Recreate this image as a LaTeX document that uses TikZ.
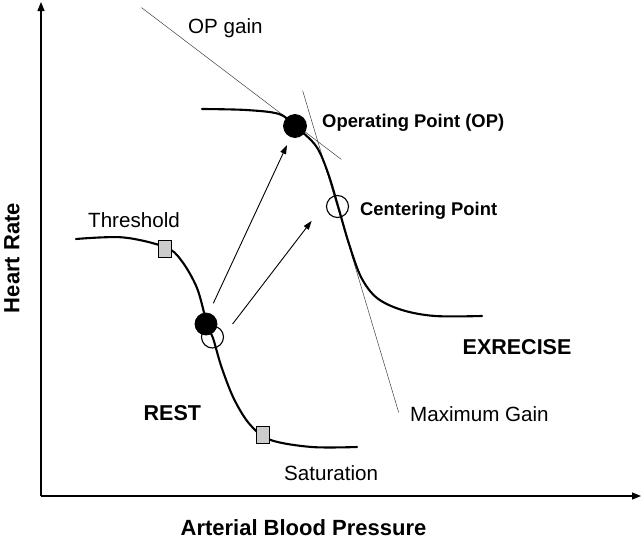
\documentclass[tikz,border=0pt]{standalone}
\usepackage{fontspec}
\setmainfont{Liberation Sans}
\usetikzlibrary{arrows.meta}
\begin{document}
\begin{tikzpicture}[x=1pt,y=-1pt,
  curve/.style={line width=2.1pt, line cap=round},
  axis/.style={line width=1.2pt, -{Triangle[length=9pt,width=7pt]}},
  tangent/.style={line width=0.5pt, black!75},
  shiftarrow/.style={line width=0.9pt, -{Triangle[length=9pt,width=6pt]}},
  sqmark/.style={draw, line width=1pt, fill=black!20, minimum width=13pt, minimum height=17pt, inner sep=0pt},
  opmark/.style={circle, fill=black, draw, line width=0.8pt, minimum size=22pt, inner sep=0pt},
  cpmark/.style={circle, fill=none, draw, line width=1.1pt, minimum size=22pt, inner sep=0pt},
  lbl/.style={anchor=base west, inner sep=0pt, font=\fontsize{20.6}{24}\selectfont},
  blbl/.style={anchor=base west, inner sep=0pt, font=\fontsize{18.4}{22}\selectfont\bfseries},
  bigl/.style={anchor=base west, inner sep=0pt, font=\fontsize{21.5}{25}\selectfont\bfseries},
  axl/.style={anchor=base, inner sep=0pt, font=\fontsize{22}{26}\selectfont\bfseries}]
\useasboundingbox (0,0) rectangle (643,544);
% axes
\coordinate (origin) at (41,496);
\coordinate (ytop) at (41,2);
\coordinate (xend) at (641,496);
\draw[axis] (origin) -- (ytop);
\draw[axis] (origin) -- (xend);
% tangent lines
\coordinate (opg1) at (141.5,7.6);
\coordinate (opg2) at (341.3,159.4);
\coordinate (mg1) at (302.7,90.8);
\coordinate (mg2) at (398.7,412.5);
\draw[tangent] (opg1) -- (opg2);
\draw[tangent] (mg1) -- (mg2);
% rest curve
\draw[curve] plot[smooth, tension=0.55] coordinates {(76,239) (123,237.4) (165,247) (181,260) (197,288) (207,324) (213,338) (221.5,367) (234,399) (250,424.6) (270.7,440) (311.7,447) (357,447)};
% exercise curve
\draw[curve] plot[smooth, tension=0.55] coordinates {(202,109) (246,110) (279,114) (295,126) (316,146) (328,173) (338,206) (348.6,242.6) (361,277) (377,298) (402,310) (435,316) (482,316)};
% markers
\node[sqmark] (thr) at (165,248.6) {};
\node[sqmark] (sat) at (262.5,435) {};
\node[cpmark] (restcp) at (212.5,337) {};
\node[opmark] (restop) at (206,324) {};
\node[opmark, minimum width=23pt] (exop) at (295,126) {};
\node[cpmark] (excp) at (337.5,206.5) {};
% shift arrows
\coordinate (a1s) at (213.3,303.3);
\coordinate (a1e) at (287,145);
\coordinate (a2s) at (232.6,324);
\coordinate (a2e) at (311.7,220.8);
\draw[shiftarrow] (a1s) -- (a1e);
\draw[shiftarrow] (a2s) -- (a2e);
% labels
\node[lbl] (lopg) at (188,33) {OP gain};
\node[blbl] (lop) at (322,127) {Operating Point (OP)};
\node[blbl] (lcp) at (360,215.5) {Centering Point};
\node[lbl] (lthr) at (88,227) {Threshold};
\node[bigl] (lex) at (462.5,354) {EXRECISE};
\node[bigl] (lrest) at (143.5,420) {REST};
\node[lbl] (lmg) at (410,421) {Maximum Gain};
\node[lbl] (lsat) at (284,480) {Saturation};
\node[axl] (lx) at (303.5,535) {Arterial Blood Pressure};
\node[axl, rotate=90] (ly) at (19.5,258) {Heart Rate};
\end{tikzpicture}
\end{document}
